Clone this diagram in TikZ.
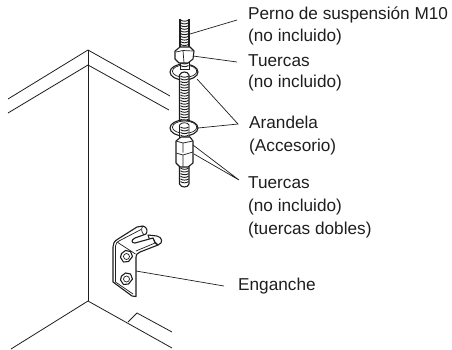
\documentclass[tikz,border=0pt]{standalone}
\usepackage{fontspec}
\setmainfont{Liberation Sans}
\definecolor{ink}{HTML}{1E1E1E}
\tikzset{
 lbl/.style={anchor=base west,inner sep=0pt,text=ink,font=\fontsize{17.2}{20}\selectfont},
 ldr/.style={draw=ink,line width=0.7pt},
 edge/.style={draw=ink,line width=0.8pt},
 part/.style={draw=ink,line width=1.1pt,fill=white,line join=round},
 thin part/.style={draw=ink,line width=0.7pt,fill=white,line join=round}
}
\newcommand{\threads}[3]{% x-centre, from y, to y
 \pgfmathsetmacro{\nexty}{#2+2.7}
 \foreach \yy in {#2,\nexty,...,#3}{
  \draw[ink,line width=0.9pt] (#1-4,\yy) .. controls (#1-2,\yy+1.6) and (#1+2,\yy+1.6) .. (#1+4,\yy);
 }}
\newcommand{\washer}[2]{%
 \draw[part] (#1,#2) ellipse [x radius=14,y radius=8];
 \draw[thin part] (#1+0.6,#2-0.8) ellipse [x radius=12.2,y radius=6.2];
}
\begin{document}
\begin{tikzpicture}[x=1pt,y=-1pt]
\useasboundingbox (0,0) rectangle (452,349);
% housing
\coordinate (apex) at (88,50);
\coordinate (apexb) at (88,65);
\coordinate (foot) at (88,301);
\draw[edge] (8,99) -- (apex) -- (170,96);
\draw[edge] (8,113) -- (apexb) -- (169,110);
\draw[edge] (apex) -- (foot);
\draw[edge] (11,349) -- (foot) -- (172,348);
\draw[edge] (128,322) -- (137,313) -- (172,332);
% rod upper
\draw[part] (180,19) -- (180,50) -- (189,50) -- (189,19);
\threads{184.5}{20}{46}
% washer 1 + rod mid
\washer{184}{72}
\draw[part] (179.5,128) -- (179.5,75) .. controls (181,71) and (188,71) .. (189,75) -- (189,128);
\threads{184.5}{76}{122}
% nut 1
\draw[ink,line width=0.8pt,fill=white] (180,60) rectangle (189,69);
\threads{184.5}{60}{66}
\draw[part] (175,51) -- (180,47) -- (190,47) -- (194,51) -- (193,59) -- (188,63) -- (179,63) -- (175,59) -- cycle;
\draw[thin part] (176,52) -- (183,50.5) -- (193,51) (183,50.5) -- (184,63);
% washer 2
\washer{184}{128}
\draw[ink,line width=0.8pt,fill=white] (179.5,125) .. controls (181,122) and (188,122) .. (189,125) -- (189,140) -- (179.5,140) -- cycle;
\threads{184.5}{127}{136}
% rod lower
\draw[part] (179.5,160) -- (179.5,184) .. controls (181,188) and (188,188) .. (189,184) -- (189,160);
\threads{184.5}{160}{183}
% double nut
\draw[part] (176,141) -- (181,137) -- (190,137) -- (193,141) -- (193,163) -- (188,167) -- (180,167) -- (176,163) -- cycle;
\draw[thin part] (176,141) -- (183,143) -- (193,141) (183,143) -- (183,167);
\draw[thin part] (176,153) -- (183,155) -- (193,152);
% bracket: second prong behind
\draw[part] (148,235) -- (157,236) .. controls (162,237) and (164,243) .. (158,245) -- (150,241) -- cycle;
% bracket body with first prong and slot
\draw[part] (113,282) -- (113,247) .. controls (113,244) and (114,241) .. (118,239) -- (137,227) -- (143,226) .. controls (147,227) and (148,231) .. (146,234) -- (135,238) .. controls (131,240) and (131,243) .. (135,243) -- (153,238) -- (155,243) -- (158,245) -- (140,252) .. controls (137,253) and (136,255) .. (136,257) -- (136,296.5) -- (132,296) -- cycle;
\draw[thin part,fill=none] (115.5,246) -- (115.5,282) -- (133,294);
\draw[thin part,fill=none] (115.5,246) .. controls (116,243) and (117,242) .. (119,241) -- (141,229.5);
\draw[thin part,fill=none] (117,242) -- (135.5,254);
\draw[thin part,fill=none] (136,251) -- (155,243);
\draw[thin part,fill=none] (143,226) .. controls (141,228) and (141,232) .. (144,234.8);
\draw[thin part,fill=none] (153,238) .. controls (154,241) and (156,243) .. (158,245);
% bolts on bracket
\foreach \cx/\cy in {126.5/256.5,126.5/279}{
 \draw[part] (\cx-5,\cy-3) -- (\cx-1,\cy-6) -- (\cx+4,\cy-5) -- (\cx+6,\cy) -- (\cx+2,\cy+5) -- (\cx-3,\cy+5.5) -- (\cx-6,\cy+1) -- cycle;
 \draw[thin part] (\cx,\cy) circle (3);
}
% labels
\node[lbl] (perno) at (248,19) {Perno de suspensión M10};
\node[lbl] (pernob) at (248,41) {(no incluido)};
\node[lbl] (tuerca) at (248,66) {Tuercas};
\node[lbl] (tuercab) at (248,87) {(no incluido)};
\node[lbl] (aran) at (249,128) {Arandela};
\node[lbl] (aranb) at (249,151) {(Accesorio)};
\node[lbl] (tuercc) at (248,188) {Tuercas};
\node[lbl] (tuercd) at (248,211) {(no incluido)};
\node[lbl] (tuerce) at (248,234) {(tuercas dobles)};
\node[lbl] (eng) at (238,290) {Enganche};
% leaders
\coordinate (a1) at (237,20); \coordinate (b1) at (190,34);
\coordinate (a2) at (237,62); \coordinate (b2) at (193,56);
\coordinate (a3) at (238,124); \coordinate (b3) at (197,79); \coordinate (b4) at (198,128);
\coordinate (a5) at (239,180); \coordinate (b5) at (193,145); \coordinate (b6) at (194,154);
\coordinate (a7) at (224,286); \coordinate (b7) at (136,271);
\draw[ldr] (a1) -- (b1);
\draw[ldr] (a2) -- (b2);
\draw[ldr] (b3) -- (a3) -- (b4);
\draw[ldr] (b5) -- (a5) -- (b6);
\draw[ldr] (a7) -- (b7);
\end{tikzpicture}
\end{document}
